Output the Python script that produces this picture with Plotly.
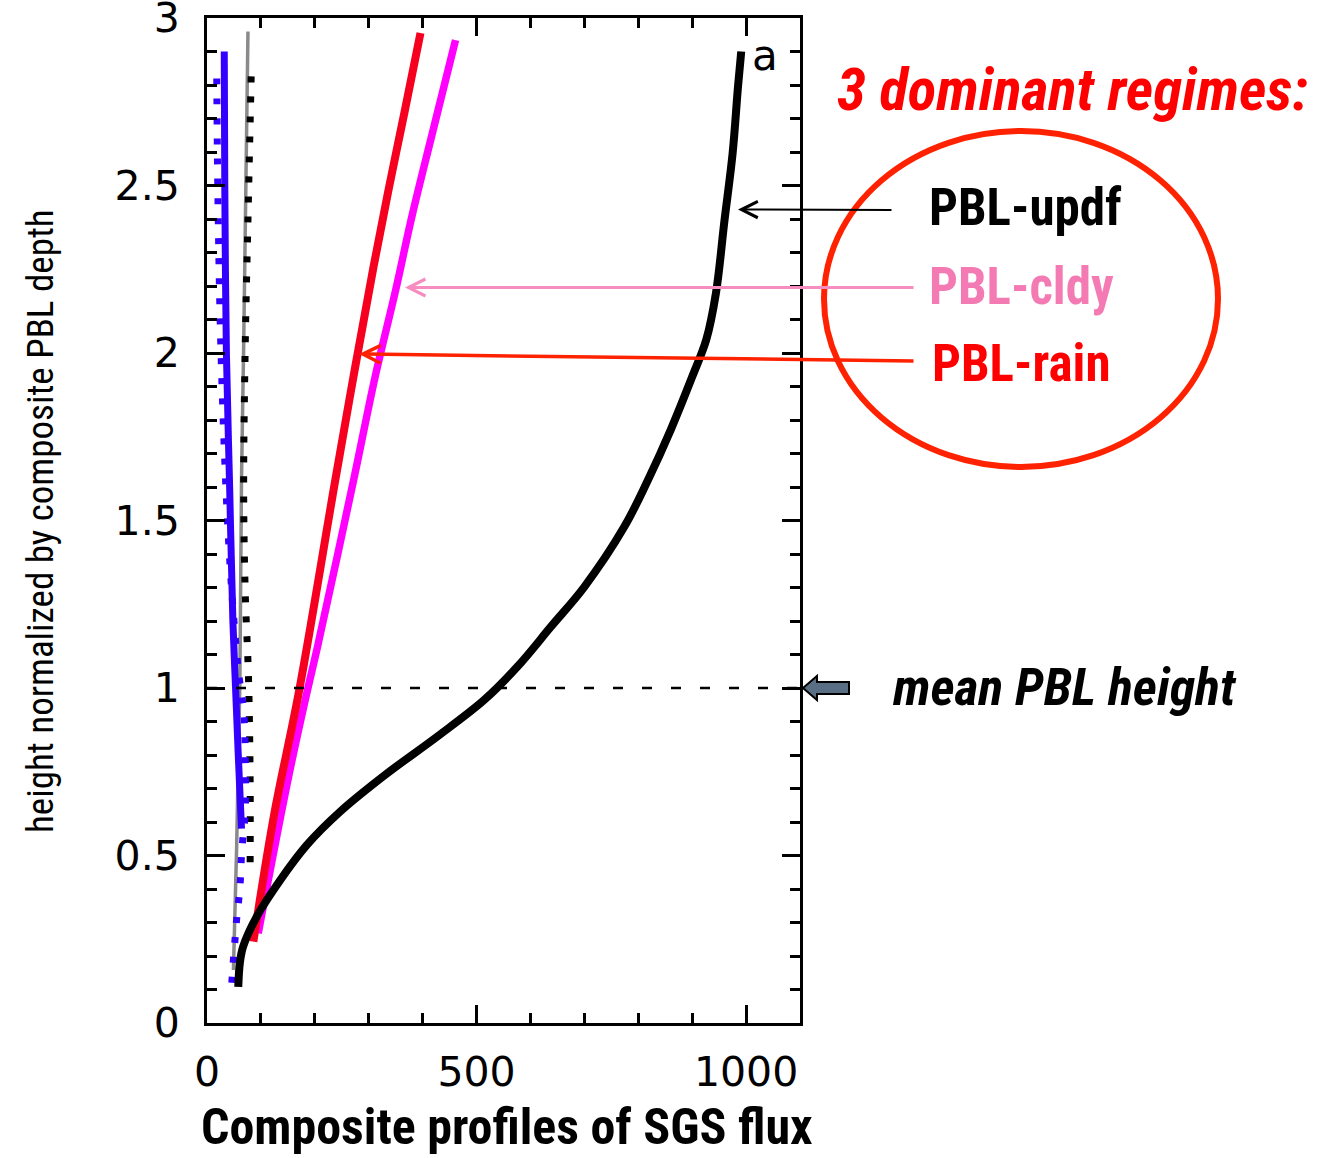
import plotly.graph_objects as go

# ---------------- data ----------------
updf_y = [0.108, 0.18, 0.228, 0.317, 0.427, 0.531, 0.631, 0.745, 0.855, 0.964, 1.064,
          1.183, 1.302, 1.481, 1.621, 1.770, 1.929, 2.039, 2.178, 2.397, 2.596, 2.795, 2.900]
updf_x = [58, 61, 67, 92, 136, 185, 247, 334, 427, 514, 576,
          638, 700, 774, 818, 860, 900, 926, 944, 960, 975, 985, 991]

rain_y = [0.243, 0.626, 0.984, 1.621, 1.959, 2.258, 2.497, 2.716, 2.955]
rain_x = [86, 125, 170, 238, 275, 309, 338, 366, 396]

cldy_y = [0.268, 0.725, 0.984, 1.123, 1.621, 1.930, 2.188, 2.407, 2.656, 2.934]
cldy_x = [95, 150, 185, 205, 272, 312, 350, 380, 418, 461]

blue_solid_y = [0.58, 0.8, 1.0, 1.2, 1.6, 2.0, 2.5, 2.9]
blue_solid_x = [64, 58, 53, 48, 42, 36, 33, 32]

blue_dot_y = [0.12, 0.19, 0.25, 0.31, 0.37, 0.43, 0.50, 0.56, 0.63, 0.80, 0.93, 1.04,
              1.2, 1.5, 2.0, 2.5, 2.85]
blue_dot_x = [46, 49, 52, 55, 59, 62, 64, 67, 71, 71, 68, 59, 50, 38, 26, 20, 18]

black_dot_y = [0.48, 0.72, 1.03, 1.28, 1.59, 2.03, 2.4, 2.83]
black_dot_x = [80, 80, 77, 71, 68, 71, 76, 82]

gray_y = [0.158, 0.526, 1.02, 1.62, 2.02, 2.96]
gray_x = [49, 55, 61, 64, 68, 76]

x_tickvals = [0, 500, 1000]
x_ticktext = ["0", "500", "1000"]
y_tickvals = [0, 0.5, 1, 1.5, 2, 2.5, 3]
y_ticktext = ["0", "0.5", "1", "1.5", "2", "2.5", "3"]
mean_pbl = 1.0

# ---------------- layout geometry ----------------
W, H = 1319, 1158
L, R, T, B = 207, 800, 18, 1023


def px(xp):
    return (xp - L) / (R - L)


def py(yp):
    return (B - yp) / (B - T)


NARROW = "Roboto Condensed, Roboto, Liberation Sans, Arial"
TICKFONT = dict(family="DejaVu Sans", size=41, color="black")

fig = go.Figure()


def add_line(x, y, color, width, dash="solid", shape="linear"):
    fig.add_trace(go.Scatter(x=x, y=y, mode="lines",
                             line=dict(color=color, width=width, dash=dash, shape=shape),
                             showlegend=False, hoverinfo="skip"))


add_line(gray_x, gray_y, "#8a8a8a", 3.5)
add_line(black_dot_x, black_dot_y, "black", 7, dash="6px,14px", shape="spline")
add_line(blue_dot_x, blue_dot_y, "#3300ff", 7, dash="6px,14px", shape="spline")
add_line(blue_solid_x, blue_solid_y, "#3300ff", 7, shape="spline")
add_line(cldy_x, cldy_y, "#ff00ff", 7.5, shape="spline")
add_line(rain_x, rain_y, "#f5001e", 8, shape="spline")
add_line(updf_x, updf_y, "black", 8, shape="spline")

axis_common = dict(showline=True, linecolor="black", linewidth=3, mirror="ticks",
                   ticks="inside", ticklen=18, tickwidth=3, tickcolor="black",
                   showgrid=False, zeroline=False, tickfont=TICKFONT,
                   ticklabeloverflow="allow", automargin=False)

fig.update_xaxes(range=[0, 1100], tickvals=x_tickvals, ticktext=x_ticktext,
                 minor=dict(ticks="inside", dtick=100, tick0=0, ticklen=10, tickwidth=3,
                            tickcolor="black", showgrid=False),
                 ticklabelstandoff=11, **axis_common)
fig.update_yaxes(range=[0, 3], tickvals=y_tickvals, ticktext=y_ticktext,
                 minor=dict(ticks="inside", dtick=0.1, tick0=0, ticklen=10, tickwidth=3,
                            tickcolor="black", showgrid=False),
                 ticklabelstandoff=16, **axis_common)

shapes = []
# mean PBL height dashed line
shapes.append(dict(type="line", xref="paper", yref="y", x0=0, x1=1, y0=mean_pbl, y1=mean_pbl,
                   line=dict(color="black", width=2.5, dash="10px,19px"), layer="above"))
# red ellipse
shapes.append(dict(type="circle", xref="paper", yref="paper",
                   x0=px(824), x1=px(1218), y0=py(467), y1=py(131),
                   line=dict(color="#ff2200", width=6)))
# block arrow pointing to the mean PBL height
pts = [(803, 688), (817, 676), (817, 682), (849, 682), (849, 694), (817, 694), (817, 700)]
path = "M " + " L ".join(f"{px(a):.5f},{py(b):.5f}" for a, b in pts) + " Z"
shapes.append(dict(type="path", xref="paper", yref="paper", path=path,
                   fillcolor="#5b6f84", line=dict(color="black", width=2)))
fig.update_layout(shapes=shapes)

ann = []


def text(xp, yp, s, size, color="black", family=NARROW, xanchor="center", angle=0):
    ann.append(dict(x=px(xp), y=py(yp), xref="paper", yref="paper", text=s,
                    showarrow=False, xanchor=xanchor, yanchor="middle", textangle=angle,
                    font=dict(family=family, size=size, color=color)))


def arrow(hx, hy, tx, ty, color, width, size):
    ann.append(dict(x=px(hx), y=py(hy), xref="paper", yref="paper", text="",
                    showarrow=True, ax=tx - hx, ay=ty - hy, arrowhead=5,
                    arrowsize=size, arrowwidth=width, arrowcolor=color, standoff=0))


text(1072, 90, "<b><i>3 dominant regimes:</i></b>", 59, color="#ff0000")
text(927, 207, "<b>PBL-updf</b>", 51, xanchor="left")
text(927, 286, "<b>PBL-cldy</b>", 51, color="#f47ab4", xanchor="left")
text(930, 364, "<b>PBL-rain</b>", 51, color="#ff0000", xanchor="left")
text(1064, 687, "<b><i>mean PBL height</i></b>", 52)
text(765, 55, "a", 42, family="DejaVu Sans")
text(507, 1127, "<b>Composite profiles of SGS flux</b>", 50)
text(40, 521, "height normalized by composite PBL depth", 37, angle=-90)

arrow(738, 209.5, 893, 210, "black", 2, 1.6)
arrow(405, 287.5, 915, 287.5, "#f78cc0", 3, 1.1)
arrow(359, 354, 915, 361, "#ff2200", 3.5, 1.0)

fig.update_layout(annotations=ann, width=W, height=H,
                  margin=dict(l=L, r=W - R, t=T, b=H - B),
                  paper_bgcolor="white", plot_bgcolor="white", showlegend=False)

fig.write_html("out.html")
